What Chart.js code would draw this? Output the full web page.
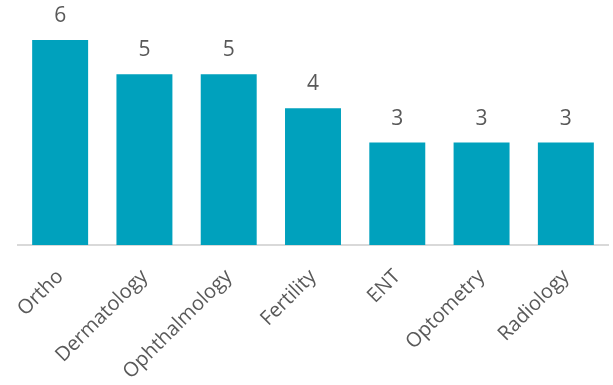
<!DOCTYPE html>
<html><head><meta charset="utf-8">
<script src="https://cdn.jsdelivr.net/npm/chart.js@4"></script>
<style>html,body{margin:0;padding:0;background:#fff}#w{width:613px;height:385px}</style>
</head><body><div id="w"><canvas id="c"></canvas></div>
<script>
const categories = ["Ortho","Dermatology","Ophthalmology","Fertility","ENT","Optometry","Radiology"];
const values = [6,5,5,4,3,3,3];

const valueLabels = {
  id:'valueLabels',
  afterDatasetsDraw(chart){
    const ctx = chart.ctx;
    const meta = chart.getDatasetMeta(0);
    ctx.save();
    ctx.font = '21px "Open Sans", sans-serif';
    ctx.fillStyle = '#595959';
    ctx.textAlign = 'center';
    ctx.textBaseline = 'alphabetic';
    meta.data.forEach((bar,i)=>{
      ctx.fillText(String(values[i]), bar.x, bar.y - 18);
    });
    ctx.restore();
  }
};

new Chart(document.getElementById('c'),{
  type:'bar',
  data:{labels:categories,datasets:[{data:values,backgroundColor:'#00A1BD',borderWidth:0,barPercentage:1,categoryPercentage:0.664}]},
  options:{
    responsive:true,maintainAspectRatio:false,animation:false,
    layout:{padding:{left:18,right:5,top:40,bottom:0}},
    plugins:{legend:{display:false},tooltip:{enabled:false}},
    scales:{
      y:{display:false,min:0,max:6},
      x:{
        grid:{display:false},
        border:{display:true,color:'#D9D9D9',width:2},
        ticks:{color:'#595959',font:{family:'"Open Sans", sans-serif',size:20},minRotation:45,maxRotation:45,padding:12},
        afterFit(s){s.height=140;}
      }
    }
  },
  plugins:[valueLabels]
});
</script></body></html>
